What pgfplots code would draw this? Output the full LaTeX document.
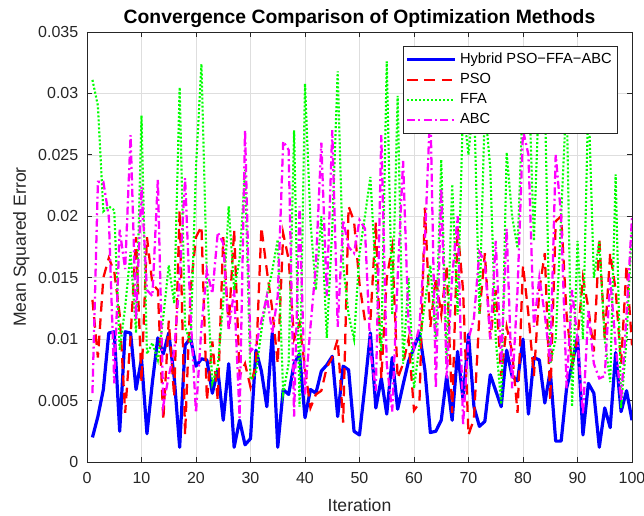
\documentclass[border=0pt]{standalone}
\usepackage{fontspec}
\setmainfont{Liberation Sans}
\usepackage{pgfplots}
\pgfplotsset{compat=1.18}
\definecolor{axgray}{rgb}{0.15,0.15,0.15}
\definecolor{gridgray}{rgb}{0.87,0.87,0.87}
\definecolor{cblue}{rgb}{0,0,1}
\definecolor{cred}{rgb}{1,0,0}
\definecolor{cgreen}{rgb}{0,1,0}
\definecolor{cmag}{rgb}{1,0,1}

\pgfplotstableread{
it hyb pso ffa abc
1 0.0020 0.0132 0.0311 0.0056
2 0.0037 0.0085 0.0290 0.0228
3 0.0059 0.0150 0.0204 0.0228
4 0.0105 0.0166 0.0208 0.0200
5 0.0106 0.0155 0.0205 0.0064
6 0.0025 0.0120 0.0091 0.0189
7 0.0106 0.0040 0.0126 0.0157
8 0.0105 0.0102 0.0171 0.0266
9 0.0059 0.0183 0.0105 0.0116
10 0.0084 0.0065 0.0282 0.0224
11 0.0023 0.0183 0.0088 0.0140
12 0.0065 0.0145 0.0097 0.0135
13 0.0101 0.0140 0.0083 0.0230
14 0.0088 0.0034 0.0118 0.0046
15 0.0105 0.0115 0.0160 0.0070
16 0.0069 0.0053 0.0129 0.0090
17 0.0012 0.0205 0.0305 0.0150
18 0.0095 0.0022 0.0110 0.0231
19 0.0101 0.0140 0.0097 0.0120
20 0.0078 0.0183 0.0240 0.0040
21 0.0084 0.0192 0.0324 0.0110
22 0.0083 0.0050 0.0150 0.0156
23 0.0056 0.0098 0.0064 0.0137
24 0.0075 0.0050 0.0078 0.0187
25 0.0034 0.0183 0.0130 0.0178
26 0.0080 0.0110 0.0208 0.0107
27 0.0012 0.0189 0.0140 0.0140
28 0.0034 0.0070 0.0165 0.0036
29 0.0014 0.0080 0.0238 0.0270
30 0.0019 0.0061 0.0067 0.0090
31 0.0091 0.0080 0.0072 0.0095
32 0.0074 0.0191 0.0107 0.0115
33 0.0045 0.0156 0.0135 0.0135
34 0.0105 0.0124 0.0156 0.0105
35 0.0012 0.0080 0.0181 0.0135
36 0.0059 0.0186 0.0056 0.0261
37 0.0055 0.0165 0.0080 0.0254
38 0.0080 0.0100 0.0270 0.0037
39 0.0088 0.0113 0.0045 0.0208
40 0.0036 0.0076 0.0308 0.0055
41 0.0059 0.0044 0.0196 0.0110
42 0.0056 0.0055 0.0140 0.0160
43 0.0074 0.0058 0.0200 0.0260
44 0.0079 0.0077 0.0101 0.0135
45 0.0086 0.0085 0.0190 0.0270
46 0.0037 0.0100 0.0318 0.0110
47 0.0078 0.0032 0.0160 0.0197
48 0.0075 0.0208 0.0120 0.0175
49 0.0025 0.0196 0.0100 0.0170
50 0.0022 0.0145 0.0170 0.0197
51 0.0062 0.0115 0.0200 0.0190
52 0.0105 0.0115 0.0232 0.0090
53 0.0044 0.0195 0.0150 0.0058
54 0.0068 0.0068 0.0090 0.0266
55 0.0039 0.0150 0.0326 0.0080
56 0.0085 0.0175 0.0120 0.0041
57 0.0043 0.0068 0.0298 0.0150
58 0.0063 0.0080 0.0080 0.0245
59 0.0082 0.0100 0.0150 0.0110
60 0.0093 0.0042 0.0060 0.0093
61 0.0105 0.0048 0.0095 0.0110
62 0.0075 0.0207 0.0130 0.0180
63 0.0024 0.0110 0.0160 0.0290
64 0.0025 0.0150 0.0100 0.0060
65 0.0034 0.0120 0.0246 0.0223
66 0.0070 0.0160 0.0080 0.0068
67 0.0034 0.0040 0.0226 0.0150
68 0.0090 0.0190 0.0120 0.0200
69 0.0051 0.0140 0.0290 0.0030
70 0.0104 0.0022 0.0250 0.0100
71 0.0045 0.0035 0.0300 0.0117
72 0.0029 0.0120 0.0120 0.0171
73 0.0033 0.0170 0.0290 0.0163
74 0.0071 0.0100 0.0239 0.0100
75 0.0058 0.0140 0.0100 0.0180
76 0.0045 0.0070 0.0047 0.0080
77 0.0091 0.0110 0.0252 0.0190
78 0.0070 0.0090 0.0200 0.0060
79 0.0066 0.0040 0.0174 0.0140
80 0.0100 0.0160 0.0300 0.0270
81 0.0039 0.0120 0.0320 0.0250
82 0.0085 0.0070 0.0180 0.0110
83 0.0083 0.0140 0.0310 0.0150
84 0.0048 0.0170 0.0300 0.0120
85 0.0074 0.0050 0.0080 0.0080
86 0.0017 0.0196 0.0100 0.0250
87 0.0017 0.0200 0.0200 0.0200
88 0.0060 0.0120 0.0300 0.0060
89 0.0079 0.0080 0.0045 0.0140
90 0.0102 0.0100 0.0180 0.0100
91 0.0022 0.0150 0.0100 0.0039
92 0.0064 0.0125 0.0300 0.0123
93 0.0056 0.0090 0.0150 0.0080
94 0.0012 0.0182 0.0180 0.0068
95 0.0044 0.0100 0.0100 0.0070
96 0.0028 0.0170 0.0065 0.0150
97 0.0089 0.0140 0.0234 0.0095
98 0.0041 0.0080 0.0044 0.0050
99 0.0058 0.0160 0.0100 0.0120
100 0.0034 0.0095 0.0193 0.0199
}\mydata

\begin{document}
\begin{tikzpicture}
\begin{axis}[
  scale only axis,
  width=408.75pt, height=322.5pt,
  xmin=0, xmax=100, ymin=0, ymax=0.035,
  xtick={0,10,20,30,40,50,60,70,80,90,100},
  ytick={0,0.005,0.01,0.015,0.02,0.025,0.03,0.035},
  yticklabels={0,0.005,0.01,0.015,0.02,0.025,0.03,0.035},
  scaled y ticks=false,
  /pgf/number format/assume math mode=true,
  grid=major,
  major grid style={gridgray, line width=0.5pt},
  axis line style={axgray, line width=0.6pt},
  tick style={axgray, line width=0.6pt},
  major tick length=4pt,
  tick align=inside,
  ticklabel style={font=\fontsize{12}{14}\selectfont, text=axgray},
  yticklabel style={xshift=-3pt},
  xticklabel style={yshift=-4pt},
  title={\bfseries Convergence Comparison of Optimization Methods},
  title style={at={(axis description cs:0.5,1.0186)}, anchor=base, yshift=-6pt, font=\fontsize{14.5}{16}\selectfont},
  xlabel={Iteration},
  xlabel style={at={(axis description cs:0.5,-0.115)}, anchor=base, font=\fontsize{13.2}{15}\selectfont, text=axgray},
  ylabel={Mean Squared Error},
  ylabel style={at={(axis description cs:-0.112,0.5)}, anchor=base, font=\fontsize{13.2}{15}\selectfont, text=axgray},
  legend style={at={(axis description cs:0.9743,0.9674)}, anchor=north east,
    draw=axgray, line width=0.5pt, fill=white,
    font=\fontsize{11}{13}\selectfont,
    inner xsep=2pt, inner ysep=2.5pt,
    nodes={text height=8.5pt, text depth=2.5pt, inner ysep=2pt, inner xsep=2.5pt},
    legend cell align=left},
  legend image code/.code={\draw[#1] (0pt,0pt) -- (36pt,0pt);},
]
\addplot[cblue, line width=2.4pt, line join=round] table[x=it, y=hyb] {\mydata};
\addlegendentry{Hybrid PSO−FFA−ABC}
\addplot[cred, line width=1.7pt, dash pattern=on 8pt off 5pt] table[x=it, y=pso] {\mydata};
\addlegendentry{PSO}
\addplot[cgreen, line width=1.6pt, dash pattern=on 1.5pt off 1.5pt] table[x=it, y=ffa] {\mydata};
\addlegendentry{FFA}
\addplot[cmag, line width=1.7pt, dash pattern=on 6pt off 2.5pt on 1.5pt off 2.5pt] table[x=it, y=abc] {\mydata};
\addlegendentry{ABC}
\end{axis}
\pgfresetboundingbox
\path (-65.25pt,-40.5pt) rectangle (417.75pt,346.5pt);
\end{tikzpicture}
\end{document}
